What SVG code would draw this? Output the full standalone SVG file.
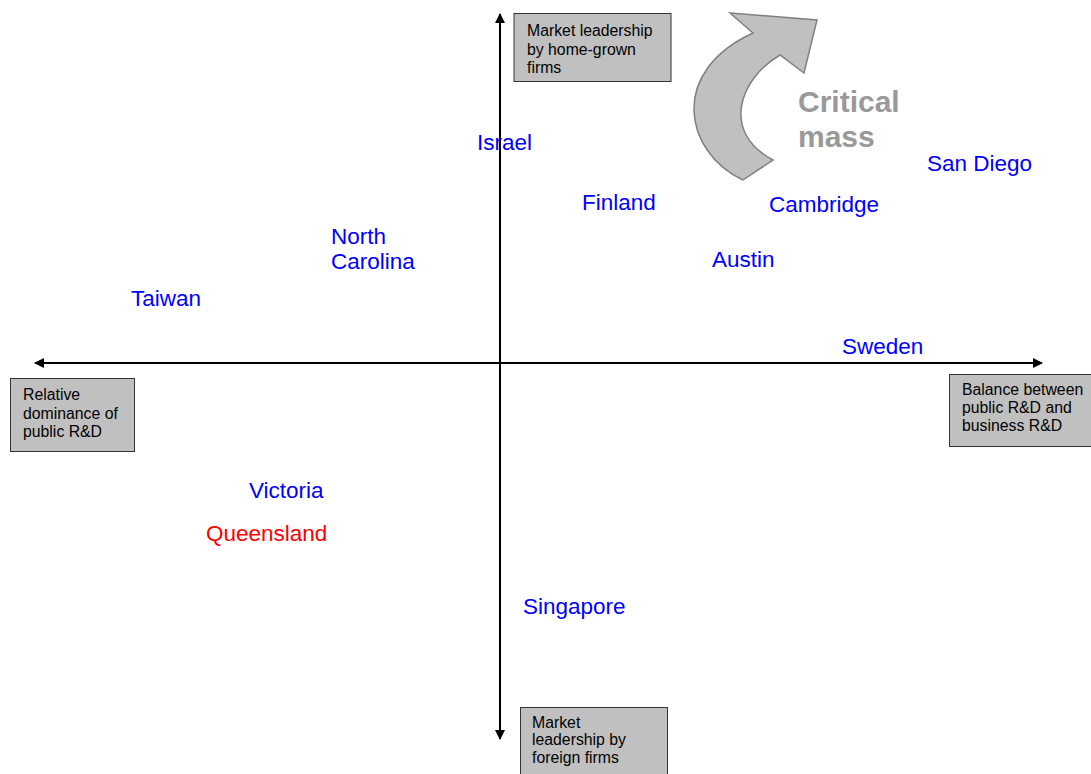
<svg xmlns="http://www.w3.org/2000/svg" width="1091" height="774" viewBox="0 0 1091 774">
  <style>
    .box { fill: #c0c0c0; stroke: #333333; stroke-width: 1; }
    .boxtext { font-family: "Liberation Sans", Arial, sans-serif; font-size: 15.8px; fill: #000000; }
    .place { font-family: "Liberation Sans", Arial, sans-serif; font-size: 22.5px; fill: #0000ff; }
    .place.alert { fill: #ff0000; }
    .mass { font-family: "Liberation Sans", Arial, sans-serif; font-size: 30px; font-weight: bold; fill: #999999; }
    .axis { stroke: #000000; stroke-width: 2; fill: none; }
  </style>
  <defs>
    <marker id="arrowhead" viewBox="0 0 10 10" refX="9" refY="5" markerWidth="5.5" markerHeight="5" orient="auto-start-reverse" markerUnits="strokeWidth">
      <path d="M0,0 L10,5 L0,10 Z" fill="#000000"/>
    </marker>
  </defs>
  <rect width="1091" height="774" fill="#ffffff"/>

  <!-- axes -->
  <g id="connectors">
    <line class="axis" x1="500" y1="363" x2="500" y2="14" marker-end="url(#arrowhead)"/>
    <line class="axis" x1="500" y1="363" x2="500" y2="739" marker-end="url(#arrowhead)"/>
    <line class="axis" x1="500" y1="363" x2="35" y2="363" marker-end="url(#arrowhead)"/>
    <line class="axis" x1="500" y1="363" x2="1042" y2="363" marker-end="url(#arrowhead)"/>
  </g>

  <!-- axis end labels -->
  <g id="label-top">
    <rect class="box" x="514" y="13.5" width="157" height="68"/>
    <text class="boxtext" x="527" y="36">Market leadership</text>
    <text class="boxtext" x="527" y="55">by home-grown</text>
    <text class="boxtext" x="527" y="73">firms</text>
  </g>
  <g id="label-bottom">
    <rect class="box" x="520.5" y="707.5" width="147" height="70"/>
    <text class="boxtext" x="532" y="728">Market</text>
    <text class="boxtext" x="532" y="745">leadership by</text>
    <text class="boxtext" x="532" y="763">foreign firms</text>
  </g>
  <g id="label-left">
    <rect class="box" x="10.5" y="378.5" width="124" height="73"/>
    <text class="boxtext" x="23" y="400">Relative</text>
    <text class="boxtext" x="23" y="419">dominance of</text>
    <text class="boxtext" x="23" y="437">public R&amp;D</text>
  </g>
  <g id="label-right">
    <rect class="box" x="949.5" y="374.5" width="145" height="72"/>
    <text class="boxtext" x="962" y="395">Balance between</text>
    <text class="boxtext" x="962" y="413">public R&amp;D and</text>
    <text class="boxtext" x="962" y="431">business R&amp;D</text>
  </g>

  <!-- critical mass arrow -->
  <g id="critical-mass">
    <path d="M730,13 L817,20 L804,73 L780,55 C740,78 720,132 773,160 L743,180 C684,152 668,72 753,33 Z" fill="#c0c0c0" stroke="#808080" stroke-width="1.5" stroke-linejoin="miter"/>
    <text class="mass" x="798" y="112">Critical</text>
    <text class="mass" x="798" y="147">mass</text>
  </g>

  <!-- regions -->
  <g id="israel"><text class="place" x="477" y="150">Israel</text></g>
  <g id="finland"><text class="place" x="582" y="210">Finland</text></g>
  <g id="san-diego"><text class="place" x="927" y="171">San Diego</text></g>
  <g id="cambridge"><text class="place" x="769" y="212">Cambridge</text></g>
  <g id="north-carolina">
    <text class="place" x="331" y="244">North</text>
    <text class="place" x="331" y="269">Carolina</text>
  </g>
  <g id="austin"><text class="place" x="712" y="267">Austin</text></g>
  <g id="taiwan"><text class="place" x="131" y="306">Taiwan</text></g>
  <g id="sweden"><text class="place" x="842" y="354">Sweden</text></g>
  <g id="victoria"><text class="place" x="249" y="498">Victoria</text></g>
  <g id="queensland"><text class="place alert" x="206" y="541">Queensland</text></g>
  <g id="singapore"><text class="place" x="523" y="614">Singapore</text></g>
</svg>
